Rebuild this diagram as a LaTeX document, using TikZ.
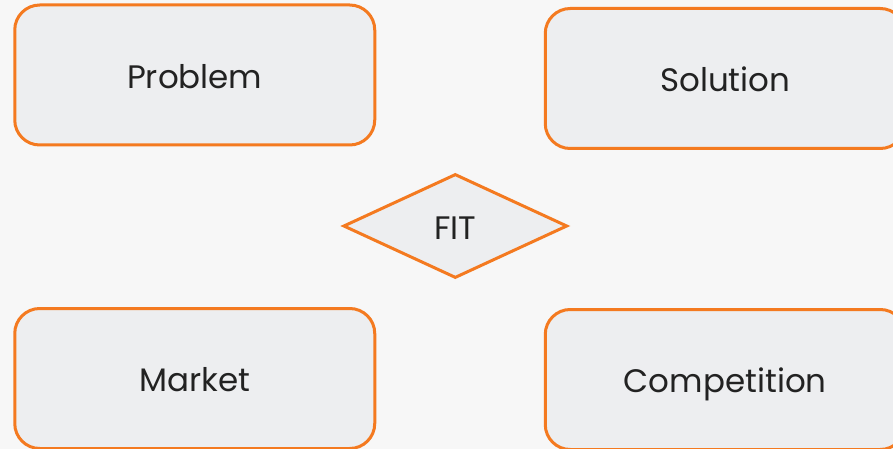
\documentclass[tikz,border=0pt]{standalone}
\usepackage{fontspec}
\setmainfont{Poppins}
\usetikzlibrary{shapes.geometric}
\definecolor{edge}{HTML}{F47A20}
\definecolor{panel}{HTML}{EDEEF0}
\definecolor{paper}{HTML}{F7F7F7}
\definecolor{ink}{HTML}{222222}
\tikzset{
  label text/.style={text=ink, font=\fontsize{32.5}{38}\selectfont,
    text height=26.6pt, text depth=0pt},
  card/.style={draw=edge, fill=panel, line width=3pt, rounded corners=25pt,
    minimum width=360pt, minimum height=140pt, inner sep=0pt, label text},
  fitmark/.style={draw=edge, fill=panel, line width=3pt, diamond,
    minimum width=224pt, minimum height=104pt, inner sep=0pt, aspect=2.15,
    label text}
}
\begin{document}
\begin{tikzpicture}[x=1pt,y=-1pt]
  \fill[paper] (0,0) rectangle (893,449);
  \useasboundingbox (0,0) rectangle (893,449);
  \node[card] (problem) at (194.75,75) {Problem};
  \node[card] (solution) at (725.25,78.5) {Solution};
  \node[card] (market) at (194.75,378.5) {Market};
  \node[card] (competition) at (725.25,379.5) {Competition};
  \node[fitmark] (fit) at (455.3,226) {FIT};
\end{tikzpicture}
\end{document}
